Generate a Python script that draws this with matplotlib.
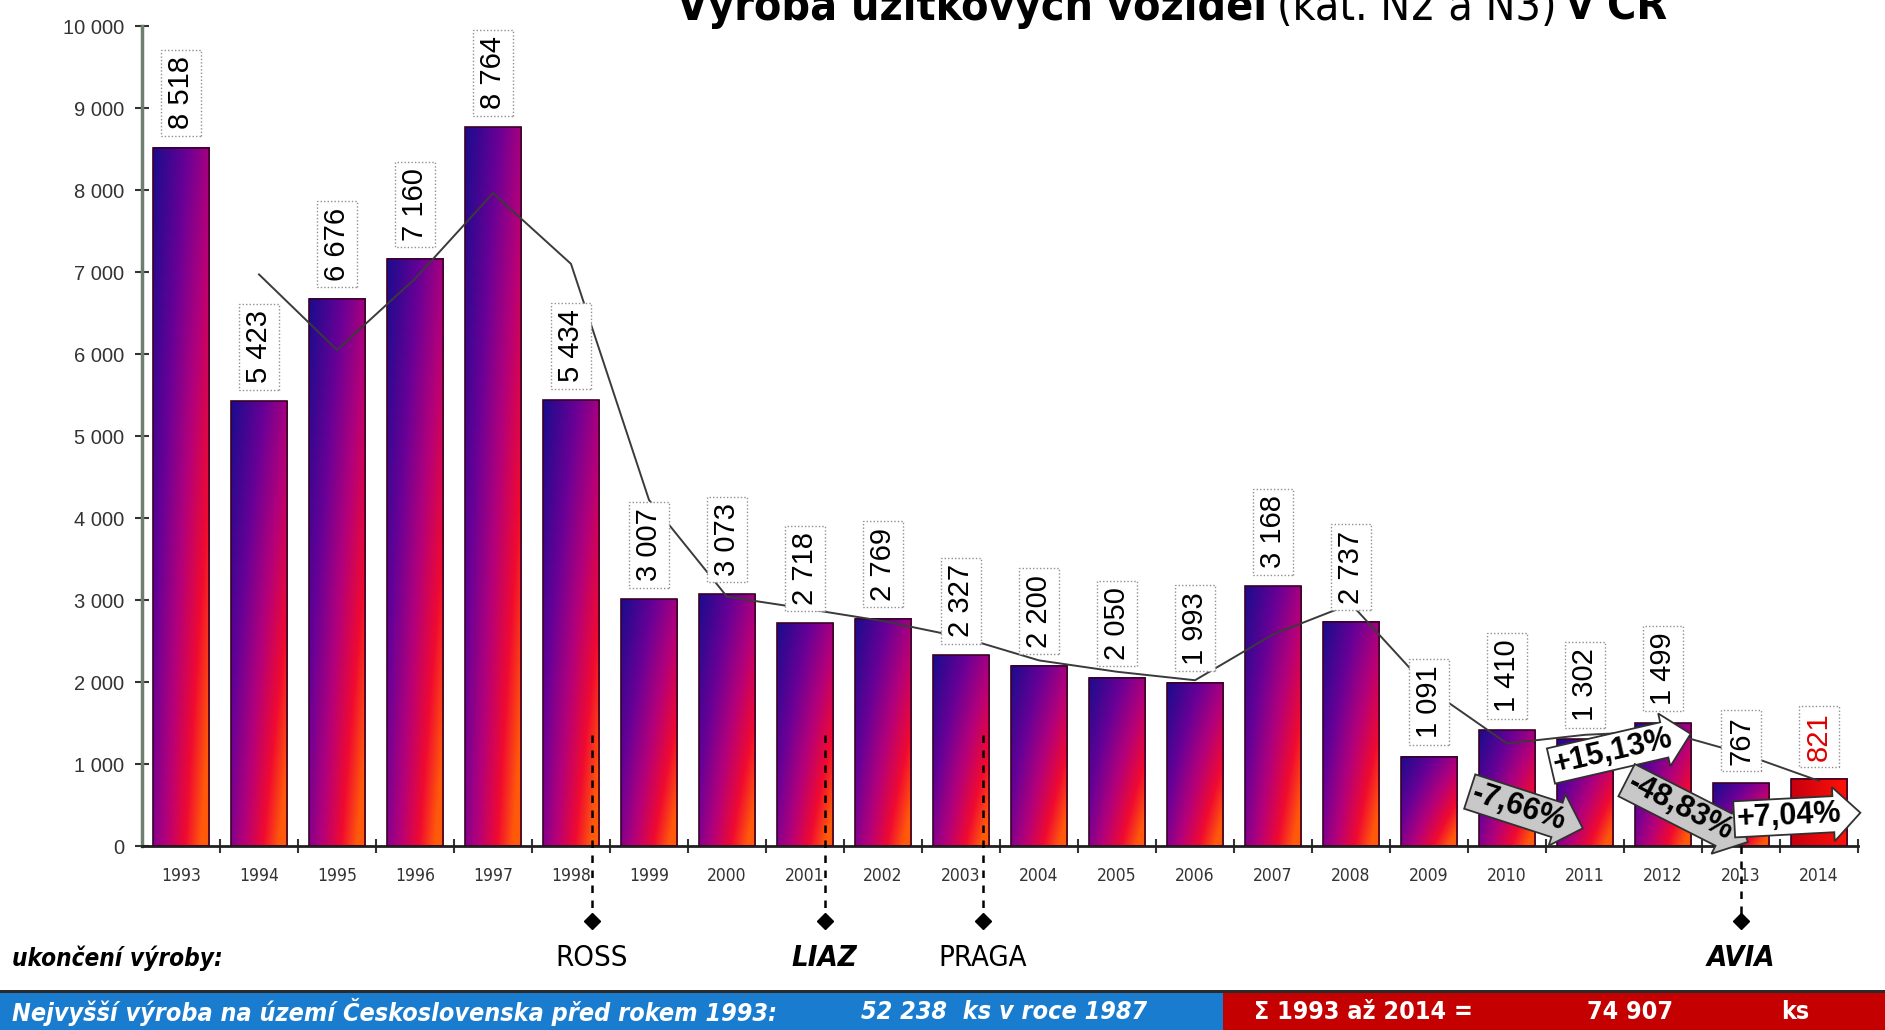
import numpy as np
import pandas as pd
import matplotlib
matplotlib.use("Agg")
import matplotlib.pyplot as plt
from matplotlib.colors import LinearSegmentedColormap
from matplotlib.patches import Rectangle

# ---- data -------------------------------------------------------------
years = [str(y) for y in range(1993, 2015)]
production = [8518, 5423, 6676, 7160, 8764, 5434, 3007, 3073, 2718, 2769, 2327,
              2200, 2050, 1993, 3168, 2737, 1091, 1410, 1302, 1499, 767, 821]

plant_names = ["ROSS", "LIAZ", "PRAGA", "AVIA"]
plant_end_pos = [5.27, 8.25, 10.28, 20.0]      # position on the year axis
plant_italic = [False, True, False, True]

change_from = [17, 18, 19, 20]                 # index of the earlier year
peak_before_1993 = 52238
peak_year = 1987
yticks = list(range(0, 10001, 1000))

# ---- layout helpers ----------------------------------------------------
W, H = 1885, 1030
def fx(px):
    return px / W
def fy(py):
    return 1 - py / H

# condensed face for the narrow captions
NARROW = dict(family="DejaVu Sans", fontstretch="condensed")
REG = ["Liberation Sans", "DejaVu Sans"]

fig = plt.figure(figsize=(W / 100, H / 100), dpi=100)
ax = fig.add_axes([fx(142), fy(846), fx(1858) - fx(142), fy(26) - fy(846)])

n = len(production)
x = np.arange(n)
bw = 0.73

# gradient fill for the bars: blue top-left -> red/orange bottom-right
cmap = LinearSegmentedColormap.from_list(
    "bar", [(0, "#1c0c8c"), (0.3, "#6a0096"), (0.55, "#b4007a"),
            (0.8, "#f00a30"), (1, "#ff5a0a")])
u = np.linspace(0, 1, 40)[None, :]
v = np.linspace(0, 1, 80)[:, None]
s = np.clip(0.5 * u + 0.4 * (1 - v) + 0.2 * u * (1 - v), 0, 1)
grad = cmap(s)
cmap_last = LinearSegmentedColormap.from_list("last", ["#c8000f", "#ff1208"])
grad_last = cmap_last(np.repeat(u, 80, axis=0))

for i, val in enumerate(production):
    img = grad_last if i == n - 1 else grad
    ax.imshow(img, extent=[i - bw / 2, i + bw / 2, 0, val], origin="lower",
              aspect="auto", interpolation="bilinear", zorder=2)
ax.bar(x, production, width=bw, fill=False, edgecolor="#3a0028",
       linewidth=1.2, zorder=3)

# two-year moving average trend line
trend = pd.Series(production, dtype=float).rolling(2).mean()
ax.plot(x[1:], trend.values[1:], color="#3a3a3a", lw=1.4, zorder=5)

# value labels
for i, val in enumerate(production):
    col = "#e00000" if i == n - 1 else "black"
    ax.annotate(f"{val:,}".replace(",", " "), (i, val), xytext=(0, 13),
                textcoords="offset points", rotation=90, ha="center",
                va="bottom", fontsize=21, color=col, family=REG, zorder=6,
                bbox=dict(boxstyle="square,pad=0.22", fc="white", ec="#909090",
                          lw=1.0, ls=(0, (1, 1.5))))

# percentage change arrows
arrow_xy = [(17.15, 470), (18.36, 1150), (19.22, 470), (20.62, 360)]
arrow_rot = [-18, 13, -27, 3]
for k, i in enumerate(change_from):
    pct = (production[i + 1] / production[i] - 1) * 100
    txt = f"{pct:+.2f}%".replace(".", ",")
    fc = "#c8c8c8" if pct < 0 else "white"
    ax.text(arrow_xy[k][0], arrow_xy[k][1], txt, rotation=arrow_rot[k],
            rotation_mode="anchor", ha="center", va="center", fontsize=22,
            fontweight="bold", family=REG, zorder=8,
            bbox=dict(boxstyle="rarrow,pad=0.1", fc=fc, ec="#303030", lw=1.3))

# end-of-production markers
for name, pos, it in zip(plant_names, plant_end_pos, plant_italic):
    top = 0 if name == "AVIA" else 1350
    ax.plot([pos, pos], [top, -880], color="black", lw=1.8,
            ls=(0, (3, 3)), clip_on=False, zorder=4)
    ax.plot([pos], [-915], marker="D", ms=8, color="black", clip_on=False,
            zorder=4)
    px = 142 + 78 * (pos + 0.5)
    fig.text(fx(px), fy(958), name, ha="center", va="center", fontsize=21,
             fontweight="bold" if it else "normal",
             style="italic" if it else "normal", **NARROW)
fig.text(fx(12), fy(958), "ukončení výroby:", ha="left", va="center",
         fontsize=17.5, fontweight="bold", style="italic", **NARROW)

# axes styling
ax.set_xlim(-0.5, n - 0.5)
ax.set_ylim(0, 10000)
ax.set_yticks(yticks)
ax.set_yticklabels([f"{t:,}".replace(",", " ") for t in yticks],
                   family=REG, fontsize=14.5, color="#333333")
ax.set_xticks(x)
ax.set_xticklabels(years, fontsize=12.5, color="#333333", **NARROW)
ax.set_xticks(np.arange(n) + 0.5, minor=True)
ax.tick_params(axis="x", which="major", length=0, pad=15)
ax.tick_params(axis="x", which="minor", length=10, width=1.5,
               direction="inout", color="#333333")
ax.tick_params(axis="y", length=10, width=1.5, direction="inout",
               color="#333333", pad=8)
for side in ("top", "right"):
    ax.spines[side].set_visible(False)
ax.spines["left"].set_color("#6f7f6f")
ax.spines["left"].set_linewidth(2.5)
ax.spines["bottom"].set_color("#202020")
ax.spines["bottom"].set_linewidth(2)
ax.set_facecolor("none")

# title built from bold and regular pieces
renderer = fig.canvas.get_renderer()
xpos = 677
for part, wt in [("Výroba užitkových vozidel", "bold"),
                 ("(kat. N2 a N3)", "normal"), ("v ČR", "bold")]:
    t = fig.text(fx(xpos), fy(20), part, fontsize=32, fontweight=wt,
                 ha="left", va="baseline", **NARROW)
    bb = t.get_window_extent(renderer=renderer)
    xpos = bb.x1 + 10

# summary band at the bottom
fig.patches.append(Rectangle((0, 0), fx(1223), 37 / H, transform=fig.transFigure,
                             fc="#1a7ccf", ec="none"))
fig.patches.append(Rectangle((fx(1223), 0), 1 - fx(1223), 37 / H,
                             transform=fig.transFigure, fc="#c40000", ec="none"))
fig.patches.append(Rectangle((0, 37 / H), 1, 3 / H, transform=fig.transFigure,
                             fc="#2a2a2a", ec="none"))
yb = fy(1012)
band_kw = dict(va="center", ha="left", fontsize=18, fontweight="bold",
               color="white", **NARROW)
fig.text(fx(12), yb, "Nejvyšší výroba na území Československa před rokem 1993:",
         style="italic", **band_kw)
fig.text(fx(861), yb, f"{peak_before_1993:,}".replace(",", " ") +
         f"  ks v roce {peak_year}", style="italic", **band_kw)
fig.text(fx(1254), yb, f"Σ {years[0]} až {years[-1]} =", **band_kw)
fig.text(fx(1587), yb, f"{sum(production):,}".replace(",", " "), **band_kw)
fig.text(fx(1781), yb, "ks", **band_kw)

fig.savefig("out.png", dpi=100)
